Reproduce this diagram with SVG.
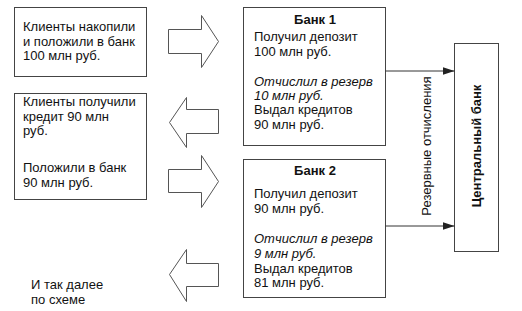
<svg xmlns="http://www.w3.org/2000/svg" width="522" height="311" viewBox="0 0 522 311">
<style>
.box{fill:#fff;stroke:#444;stroke-width:1}
.blk{fill:#fff;stroke:#555;stroke-width:1;stroke-linejoin:miter}
text{font-family:"Liberation Sans",Arial,sans-serif;font-size:13px;fill:#111}
.b{font-weight:bold}
.i{font-style:italic}
.con{stroke:#333;stroke-width:1;fill:none}
</style>
<defs>
<marker id="ah" markerWidth="12" markerHeight="8" refX="12" refY="4" orient="auto" markerUnits="userSpaceOnUse">
<path d="M0,0 L12,4 L0,8 Z" fill="#222"/>
</marker>
</defs>
<rect width="522" height="311" fill="#fff"/>
<g id="clients1">
<rect class="box" x="14.5" y="7.5" width="132" height="69"/>
<text x="23" y="31">Клиенты накопили</text>
<text x="23" y="46">и положили в банк</text>
<text x="23" y="60">100 млн руб.</text>
</g>
<g id="clients2">
<rect class="box" x="14.5" y="93.5" width="132" height="106"/>
<text x="23" y="106">Клиенты получили</text>
<text x="23" y="121">кредит 90 млн</text>
<text x="23" y="135">руб.</text>
<text x="23" y="172">Положили в банк</text>
<text x="23" y="187">90 млн руб.</text>
</g>
<g id="etc">
<text x="31" y="289">И так далее</text>
<text x="31" y="304">по схеме</text>
</g>
<g id="bank1">
<rect class="box" x="243.5" y="7.5" width="142" height="138"/>
<text class="b" x="315" y="24" text-anchor="middle">Банк 1</text>
<text x="254" y="41">Получил депозит</text>
<text x="254" y="56">100 млн руб.</text>
<text class="i" x="254" y="86">Отчислил в резерв</text>
<text class="i" x="254" y="100">10 млн руб.</text>
<text x="254" y="114">Выдал кредитов</text>
<text x="254" y="129">90 млн руб.</text>
</g>
<g id="bank2">
<rect class="box" x="243.5" y="159.5" width="142" height="138"/>
<text class="b" x="315" y="175" text-anchor="middle">Банк 2</text>
<text x="254" y="198">Получил депозит</text>
<text x="254" y="213">90 млн руб.</text>
<text class="i" x="254" y="243">Отчислил в резерв</text>
<text class="i" x="254" y="258">9 млн руб.</text>
<text x="254" y="273">Выдал кредитов</text>
<text x="254" y="287">81 млн руб.</text>
</g>
<g id="central">
<rect class="box" x="454.5" y="43.5" width="44" height="208"/>
<text class="b" transform="translate(481,146) rotate(-90)" text-anchor="middle">Центральный банк</text>
</g>
<g id="blockarrows">
<path class="blk" d="M168.5,29.5 H201.5 V15.5 L218.5,41.5 L201.5,67.5 V53.5 H168.5 Z"/>
<path class="blk" d="M218.5,109.5 H186.5 V97.5 L169.5,122.5 L186.5,147.5 V133.5 H218.5 Z"/>
<path class="blk" d="M168.5,169.5 H201.5 V155.5 L218.5,181.5 L201.5,207.5 V192.5 H168.5 Z"/>
<path class="blk" d="M218.5,263.5 H186.5 V249.5 L169.5,274.5 L186.5,301.5 V286.5 H218.5 Z"/>
</g>
<g id="connectors">
<line class="con" x1="385.5" y1="71" x2="454.5" y2="71" marker-end="url(#ah)"/>
<line class="con" x1="385.5" y1="226" x2="454.5" y2="226" marker-end="url(#ah)"/>
<text transform="translate(431,146) rotate(-90)" text-anchor="middle">Резервные отчисления</text>
</g>
</svg>
